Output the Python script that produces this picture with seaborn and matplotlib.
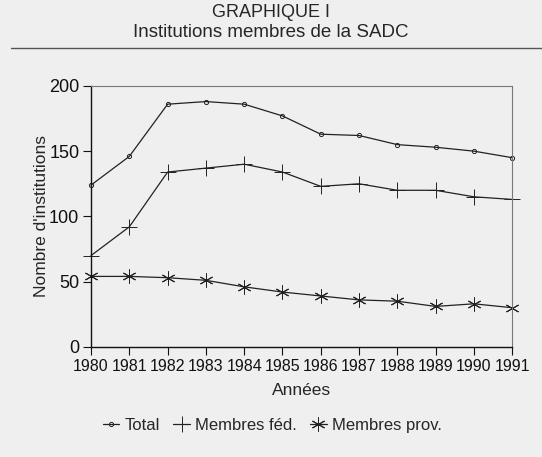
import pandas as pd
import matplotlib
matplotlib.use('Agg')
import matplotlib.pyplot as plt
import seaborn as sns

# values
annees = [1980, 1981, 1982, 1983, 1984, 1985, 1986, 1987, 1988, 1989, 1990, 1991]
total = [124, 146, 186, 188, 186, 177, 163, 162, 155, 153, 150, 145]
membres_fed = [70, 92, 134, 137, 140, 134, 123, 125, 120, 120, 115, 113]
membres_prov = [54, 54, 53, 51, 46, 42, 39, 36, 35, 31, 33, 30]
series = ['Total', 'Membres féd.', 'Membres prov.']

bg = '#efefef'
sns.set_theme(style='ticks')
plt.rcParams['font.family'] = ['Liberation Sans', 'DejaVu Sans']

df = pd.DataFrame({'annee': annees * 3,
                   'valeur': total + membres_fed + membres_prov,
                   'serie': [s for s in series for _ in annees]})

fig = plt.figure(figsize=(5.42, 4.57), dpi=100, facecolor=bg)
ax = fig.add_axes([0.168, 0.241, 0.777, 0.571], facecolor=bg)

markers = {'Total': 'o', 'Membres féd.': '+', 'Membres prov.': (6, 2, 0)}
sizes = {'Total': 3, 'Membres féd.': 11, 'Membres prov.': 10}
for s in series:
    d = df[df['serie'] == s]
    sns.lineplot(data=d, x='annee', y='valeur', ax=ax, color='#222222', lw=0.9,
                 marker=markers[s], markersize=sizes[s], markerfacecolor='none',
                 markeredgecolor='#222222', markeredgewidth=0.7, label=s,
                 clip_on=False)

ax.set_xlim(1980, 1991)
ax.set_ylim(0, 200)
ax.set_xticks(annees)
ax.set_yticks([0, 50, 100, 150, 200])
ax.tick_params(direction='out', length=6, width=0.8, colors='#111111', pad=2.5)
ax.tick_params(axis='x', labelsize=11.5)
ax.tick_params(axis='y', labelsize=13)
ax.set_xlabel('Années', fontsize=12.5, labelpad=7)
ax.set_ylabel("Nombre d'institutions", fontsize=12.5)
ax.yaxis.set_label_coords(-0.10, 0.5)
for side in ['left', 'bottom']:
    ax.spines[side].set_color('#111111')
    ax.spines[side].set_linewidth(1.0)
for side in ['top', 'right']:
    ax.spines[side].set_visible(True)
    ax.spines[side].set_color('#777777')
    ax.spines[side].set_linewidth(0.8)

ax.legend(loc='upper center', bbox_to_anchor=(0.43, -0.215), ncol=3, frameon=False,
          fontsize=12, handlelength=1.0, handletextpad=0.3, columnspacing=0.8)

fig.text(0.5, 0.972, 'GRAPHIQUE I', ha='center', va='center', fontsize=13)
fig.text(0.5, 0.928, 'Institutions membres de la SADC', ha='center', va='center', fontsize=13.5)
fig.add_artist(plt.Line2D([0.02, 1.0], [0.895, 0.895], color='#555555', lw=1.0))

fig.savefig('out.png', dpi=100, facecolor=bg)
